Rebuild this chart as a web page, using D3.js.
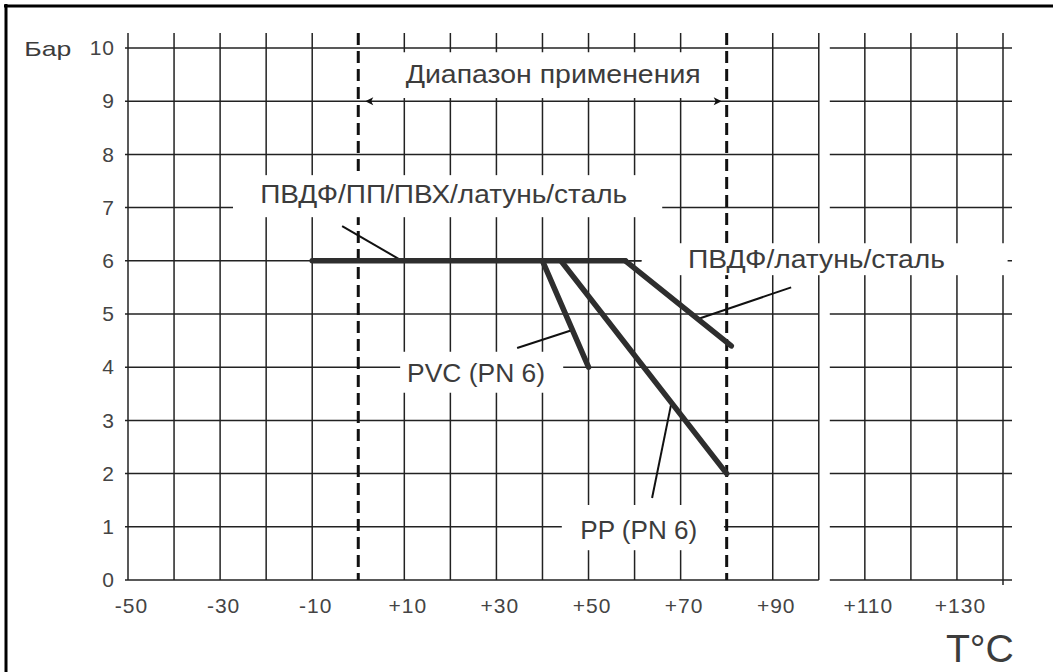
<!DOCTYPE html>
<html><head><meta charset="utf-8">
<script src="https://cdn.jsdelivr.net/npm/d3@7"></script>
<style>body{margin:0;background:#fff} svg{display:block}</style>
</head><body>
<svg id="chart" width="1053" height="672"></svg>
<script>
// ---- data ----
const tempGrid = [-50,-40,-30,-20,-10,0,10,20,30,40,50,60,70,80,90,100,110,120,130,140];
const tempLabels = [-50,-30,-10,10,30,50,70,90,110,130];
const pressureTicks = [0,1,2,3,4,5,6,7,8,9,10];
const rangeBounds = [0, 80];          // Диапазон применения
const gapTemp = 100;                  // break in horizontal grid after this line

const seriesNames = ["ПВДФ/ПП/ПВХ/латунь/сталь", "ПВДФ/латунь/сталь", "PVC (PN 6)", "PP (PN 6)"];
const commonT = [-10, 58], commonP = [6, 6];
const pvdfT   = [58, 81],  pvdfP   = [6, 4.4];
const pvcT    = [40, 50],  pvcP    = [6, 4];
const ppT     = [44, 80],  ppP     = [6, 2];

const rangeLabel = "Диапазон применения";
const yUnit = "Бар";
const xUnit = "T°C";

// ---- chart ----
const svg = d3.select("#chart");
const x = d3.scaleLinear().domain([-50, 140]).range([128, 1003]);
const y = d3.scaleLinear().domain([0, 10]).range([580, 48]);
const gridTop = y(10) - 15;
const ink = "#222";

// frame (top and left edges)
svg.append("line").attr("x1", 4).attr("x2", 1053).attr("y1", 6).attr("y2", 6).attr("stroke", "#000").attr("stroke-width", 3);
svg.append("line").attr("x1", 6).attr("x2", 6).attr("y1", 4).attr("y2", 672).attr("stroke", "#000").attr("stroke-width", 3);

const grid = svg.append("g").attr("stroke", ink).attr("stroke-width", 1.5);
// horizontal grid, broken just right of the 100 °C line
pressureTicks.forEach(p => {
  grid.append("line").attr("x1", x(-50) - 3).attr("x2", x(gapTemp)).attr("y1", y(p)).attr("y2", y(p));
  grid.append("line").attr("x1", x(gapTemp) + 11).attr("x2", x(140) + 9).attr("y1", y(p)).attr("y2", y(p));
});
// vertical grid
tempGrid.filter(t => !rangeBounds.includes(t)).forEach(t => {
  grid.append("line").attr("x1", x(t)).attr("x2", x(t)).attr("y1", gridTop).attr("y2", t === 140 ? y(0) + 5 : y(0));
});
// application range dashed lines
rangeBounds.forEach(t => {
  svg.append("line").attr("x1", x(t)).attr("x2", x(t)).attr("y1", gridTop).attr("y2", y(0))
    .attr("stroke", "#111").attr("stroke-width", 3).attr("stroke-dasharray", "12,6");
});

// white label boxes (break the grid behind labels), in data units
const boxes = [
  [0.8, 78.1, 9.92, 9.06],
  [-27.2, 66, 7.61, 6.82],
  [61.5, 141, 6.33, 5.73],
  [9.1, 44.5, 4.29, 3.52],
  [44.2, 79.4, 1.41, 0.56]
];
boxes.forEach(b => {
  svg.append("rect").attr("x", x(b[0])).attr("y", y(b[2]))
    .attr("width", x(b[1]) - x(b[0])).attr("height", y(b[3]) - y(b[2])).attr("fill", "#fff");
});
// keep the thin 6-bar grid stub up to the right label box
svg.append("line").attr("x1", x(58)).attr("x2", x(61.5)).attr("y1", y(6)).attr("y2", y(6)).attr("stroke", ink).attr("stroke-width", 1.5);

// range arrows on the 9-bar line
const arrowY = y(9);
svg.append("path").attr("d", `M${x(rangeBounds[0]) + 7},${arrowY} l8,-4 l-2,4 l2,4 z`).attr("fill", "#111");
svg.append("path").attr("d", `M${x(rangeBounds[1]) - 5},${arrowY} l-8,-4 l2,4 l-2,4 z`).attr("fill", "#111");

// leader lines (data units)
const leaders = [
  [[-3.5, 6.65], [9.5, 6]],
  [[73.6, 4.9], [94, 5.5]],
  [[34.5, 4.36], [46.5, 4.7]],
  [[68, 3.33], [63.8, 1.54]]
];
leaders.forEach(l => {
  svg.append("line").attr("x1", x(l[0][0])).attr("y1", y(l[0][1])).attr("x2", x(l[1][0])).attr("y2", y(l[1][1]))
    .attr("stroke", "#111").attr("stroke-width", 2);
});

// data lines
const line = d3.line().x(d => x(d[0])).y(d => y(d[1]));
[[commonT, commonP], [pvdfT, pvdfP], [pvcT, pvcP], [ppT, ppP]].forEach(([ts, ps]) => {
  svg.append("path").datum(ts.map((t, i) => [t, ps[i]])).attr("d", line)
    .attr("fill", "none").attr("stroke", "#2e2e2e").attr("stroke-width", 5.5).attr("stroke-linecap", "round");
});

// axes
const yAxis = svg.append("g").attr("transform", `translate(${x(-50)},0)`)
  .call(d3.axisLeft(y).tickValues(pressureTicks).tickSize(0).tickPadding(13));
const xAxis = svg.append("g").attr("transform", `translate(${x(-50) - x(-50) + 3},${y(0)})`)
  .call(d3.axisBottom(x).tickValues(tempLabels).tickFormat(d => d > 0 ? "+" + d : String(d)).tickSize(0).tickPadding(18));
[yAxis, xAxis].forEach(a => {
  a.select(".domain").remove();
  a.selectAll("text").attr("font-family", "Liberation Sans, Arial, sans-serif").attr("font-size", 21)
    .attr("fill", "#444").attr("letter-spacing", 1);
});

// text labels: [text, x(data), y(data) baseline, width px, size]
const labelFont = "Liberation Sans, Arial, sans-serif";
const texts = [
  [yUnit, -72.5, 9.85, 47, 21],
  [rangeLabel, 10.3, 9.34, 295, 25],
  [seriesNames[0], -21.3, 7.08, 367, 25],
  [seriesNames[1], 71.6, 5.87, 257, 25],
  [seriesNames[2], 10.6, 3.72, 138, 26],
  [seriesNames[3], 48.2, 0.77, 117, 26],
  [xUnit, 127.6, -1.54, 68, 38]
];
texts.forEach(t => {
  svg.append("text").attr("x", x(t[1])).attr("y", y(t[2])).text(t[0])
    .attr("font-family", labelFont).attr("font-size", t[4]).attr("fill", "#3c3c3c")
    .attr("textLength", t[3]).attr("lengthAdjust", "spacingAndGlyphs");
});
</script>
</body></html>
